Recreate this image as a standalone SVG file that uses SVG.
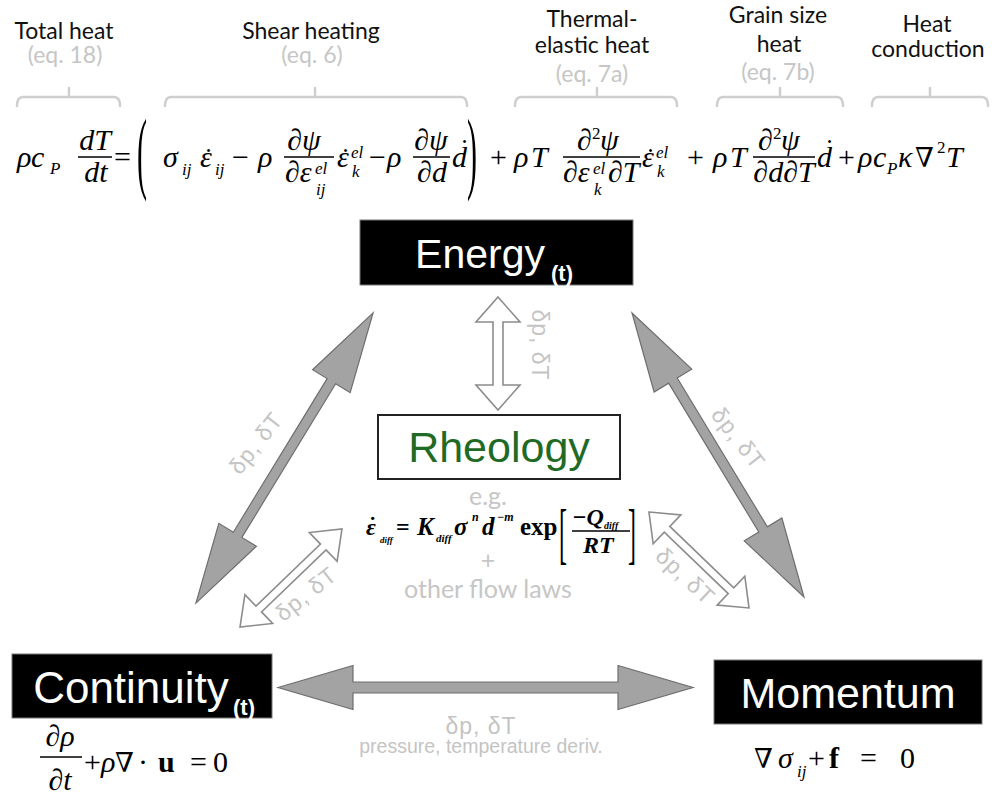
<svg xmlns="http://www.w3.org/2000/svg" width="999" height="803" viewBox="0 0 999 803">
<style>
.lbl{font-family:Lato,"Liberation Sans",sans-serif;font-size:23px;fill:#111;text-anchor:middle}
.eq{font-family:Lato,"Liberation Sans",sans-serif;font-size:23px;fill:#c6c6c6;text-anchor:middle}
.fl{font-family:Lato,"Liberation Sans",sans-serif;font-size:25px;fill:#c6c6c6;text-anchor:middle}
.br{fill:none;stroke:#cfcfcf;stroke-width:2.5;stroke-linecap:round}
.m{font-family:"Liberation Serif","DejaVu Serif",serif;font-size:30px;fill:#000}
.c{text-anchor:middle}
.i{font-style:italic}
.s{font-size:17px}
.d{font-size:27px}
.b{font-weight:bold}
.bar{stroke:#000;stroke-width:1.4}
.dark{fill:#000;stroke:#777;stroke-width:1}
.nt{font-family:"Liberation Sans",Arial,sans-serif;fill:#fff;text-anchor:middle}
.big{fill:#a3a3a3;stroke:#6e6e6e;stroke-width:1.2}
.hol{fill:#fff;stroke:#8c8c8c;stroke-width:1.6}
.al{font-family:"Liberation Sans",Arial,sans-serif;font-size:23px;letter-spacing:1px;fill:#c4c4c4;text-anchor:middle}
</style>
<rect width="999" height="803" fill="#fff"/>

<g id="heat-labels">
<text class="lbl" x="64" y="39">Total heat</text>
<text class="eq" x="65" y="63">(eq. 18)</text>
<text class="lbl" x="311" y="39">Shear heating</text>
<text class="eq" x="312" y="63">(eq. 6)</text>
<text class="lbl" x="592" y="27">Thermal-</text>
<text class="lbl" x="592" y="53">elastic heat</text>
<text class="eq" x="592" y="82">(eq. 7a)</text>
<text class="lbl" x="778" y="23">Grain size</text>
<text class="lbl" x="779" y="52">heat</text>
<text class="eq" x="778" y="80">(eq. 7b)</text>
<text class="lbl" x="927" y="32">Heat</text>
<text class="lbl" x="928" y="57">conduction</text>
<path class="br" d="M17 106 Q17 97 23 97 L114 97 Q120 97 120 106 M69 97 L69 88"/>
<path class="br" d="M165 106 Q165 97 171 97 L461 97 Q467 97 467 106 M315 97 L315 88"/>
<path class="br" d="M515 106 Q515 97 521 97 L671 97 Q677 97 677 106 M597 97 L597 88"/>
<path class="br" d="M717 106 Q717 97 723 97 L837 97 Q843 97 843 106 M780 97 L780 88"/>
<path class="br" d="M872 106 Q872 97 878 97 L982 97 Q988 97 988 106 M930 97 L930 88"/>
</g>

<g id="heat-equation">
<text class="m i" x="17" y="167">ρ</text>
<text class="m i" x="31" y="167">c</text>
<text class="m i s" x="50" y="174">P</text>
<text class="m i c" x="95" y="150">dT</text>
<line class="bar" x1="78" y1="157" x2="112" y2="157"/>
<text class="m i c" x="96" y="182">dt</text>
<text class="m" x="114" y="167">=</text>
<text class="m" transform="translate(137,182) scale(1,3)">(</text>
<text class="m i" x="163" y="167">σ</text>
<text class="m i s" x="182" y="175">ij</text>
<text class="m i" x="200" y="167">ε</text>
<text class="m d" x="204" y="167">˙</text>
<text class="m i s" x="215" y="175">ij</text>
<text class="m" x="232" y="167">−</text>
<text class="m i" x="258" y="167">ρ</text>
<text class="m i c" x="304" y="150">∂ψ</text>
<line class="bar" x1="284" y1="157" x2="334" y2="157"/>
<text class="m i" x="285" y="182">∂ε</text>
<text class="m i s" x="315" y="174">el</text>
<text class="m i s" x="316" y="195">ij</text>
<text class="m i" x="337" y="167">ε</text>
<text class="m d" x="341" y="167">˙</text>
<text class="m i s" x="351" y="158">el</text>
<text class="m i s" x="352" y="177">k</text>
<text class="m" x="369" y="167">−</text>
<text class="m i" x="387" y="167">ρ</text>
<text class="m i c" x="431" y="150">∂ψ</text>
<line class="bar" x1="413" y1="157" x2="450" y2="157"/>
<text class="m i c" x="432" y="182">∂d</text>
<text class="m i" x="452" y="167">d</text>
<text class="m d" x="460" y="158">˙</text>
<text class="m" transform="translate(467,182) scale(1,3)">)</text>
<text class="m" x="490" y="167">+</text>
<text class="m i" x="514" y="167">ρ</text>
<text class="m i" x="531" y="167">T</text>
<text class="m i" x="577" y="150">∂</text>
<text class="m s" x="592" y="139">2</text>
<text class="m i" x="600" y="150">ψ</text>
<line class="bar" x1="563" y1="157" x2="640" y2="157"/>
<text class="m i" x="563" y="182">∂ε</text>
<text class="m i s" x="593" y="174">el</text>
<text class="m i s" x="594" y="195">k</text>
<text class="m i" x="608" y="182">∂T</text>
<text class="m i" x="642" y="167">ε</text>
<text class="m d" x="646" y="167">˙</text>
<text class="m i s" x="656" y="158">el</text>
<text class="m i s" x="657" y="177">k</text>
<text class="m" x="687" y="167">+</text>
<text class="m i" x="713" y="167">ρ</text>
<text class="m i" x="730" y="167">T</text>
<text class="m i" x="758" y="150">∂</text>
<text class="m s" x="773" y="139">2</text>
<text class="m i" x="781" y="150">ψ</text>
<line class="bar" x1="753" y1="157" x2="815" y2="157"/>
<text class="m i c" x="784" y="182">∂d∂T</text>
<text class="m i" x="817" y="167">d</text>
<text class="m d" x="825" y="158">˙</text>
<text class="m" x="838" y="167">+</text>
<text class="m i" x="858" y="167">ρ</text>
<text class="m i" x="873" y="167">c</text>
<text class="m i s" x="887" y="174">P</text>
<text class="m i" x="898" y="167">κ</text>
<text class="m" x="915" y="167" style="font-size:27px">∇</text>
<text class="m s" x="937" y="153">2</text>
<text class="m i" x="946" y="167">T</text>
</g>

<g id="connectors">
<polygon class="big" transform="translate(284.5,458) rotate(-58.6)" points="-170,0 -90,-22 -90,-5 90,-5 90,-22 170,0 90,22 90,5 -90,5 -90,22"/>
<polygon class="big" transform="translate(718,455) rotate(58.8)" points="-166,0 -87,-22 -87,-5 87,-5 87,-22 166,0 87,22 87,5 -87,5 -87,22"/>
<polygon class="big" points="278,687.5 353,665.5 353,682 618,682 618,665.5 693,687.5 618,709.5 618,693 353,693 353,709.5"/>
<polygon class="hol" points="498,297 520,322 503,322 503,385 520,385 498,410 476,385 493,385 493,322 476,322"/>
<polygon class="hol" transform="translate(291,578) rotate(-43.9)" points="-70.75,0 -44.75,-20 -44.75,-4 44.75,-4 44.75,-20 70.75,0 44.75,20 44.75,4 -44.75,4 -44.75,20"/>
<polygon class="hol" transform="translate(699,560) rotate(43.8)" points="-69.3,0 -44.3,-20 -44.3,-4 44.3,-4 44.3,-20 69.3,0 44.3,20 44.3,4 -44.3,4 -44.3,20"/>
<text class="al" transform="translate(262,448) rotate(-52)">δp, δT</text>
<text class="al" transform="translate(732,443) rotate(52)">δp, δT</text>
<text class="al" transform="translate(532,345) rotate(90)">δp, δT</text>
<text class="al" transform="translate(311,600) rotate(-39)">δp, δT</text>
<text class="al" transform="translate(680,582) rotate(43)">δp, δT</text>
<text class="al" x="481" y="734">δp, δT</text>
<text class="al" x="481" y="753" style="font-size:19.5px;letter-spacing:0">pressure, temperature deriv.</text>
</g>

<g id="energy">
<rect class="dark" x="360" y="220" width="273" height="65"/>
<text class="nt" x="480" y="268" font-size="41">Energy</text>
<text class="nt" x="562" y="281" font-size="22" font-weight="bold">(t)</text>
</g>

<g id="rheology">
<rect x="378" y="415" width="242" height="64" fill="#fff" stroke="#222" stroke-width="2"/>
<text x="499" y="462" font-family="Liberation Sans,Arial,sans-serif" font-size="43" fill="#1f6b25" text-anchor="middle">Rheology</text>
<text class="fl" x="488" y="505">e.g.</text>
<text class="m b i" x="366" y="535" style="font-size:24px">ε</text>
<text class="m b" x="369" y="532" style="font-size:22px">˙</text>
<text class="m b i" x="380" y="543" style="font-size:9px">diff</text>
<text class="m b" x="396" y="535" style="font-size:24px">=</text>
<text class="m b i" x="417" y="535" style="font-size:25px">K</text>
<text class="m b i" x="436" y="542" style="font-size:11px">diff</text>
<text class="m b i" x="454" y="535" style="font-size:25px">σ</text>
<text class="m b i" x="472" y="521" style="font-size:12px">n</text>
<text class="m b i" x="482" y="535" style="font-size:25px">d</text>
<text class="m b i" x="497" y="521" style="font-size:12px">−m</text>
<text class="m b" x="520" y="535" style="font-size:25px">exp</text>
<text class="m" transform="translate(559,556) scale(1,2.8)" style="font-size:24px">[</text>
<text class="m b i" x="572" y="525" style="font-size:24px">−Q</text>
<text class="m b i" x="604" y="529" style="font-size:10px">diff</text>
<line class="bar" x1="572" y1="531" x2="630" y2="531"/>
<text class="m b i" x="583" y="553" style="font-size:24px">RT</text>
<text class="m" transform="translate(628,556) scale(1,2.8)" style="font-size:24px">]</text>
<text class="fl" x="488" y="569">+</text>
<text class="fl" x="488" y="598">other flow laws</text>
</g>

<g id="continuity">
<rect class="dark" x="12" y="654" width="260" height="64"/>
<text class="nt" x="131" y="703" font-size="44">Continuity</text>
<text class="nt" x="244" y="715" font-size="22" font-weight="bold">(t)</text>
<text class="m i c" x="60" y="746">∂ρ</text>
<line class="bar" x1="40" y1="757" x2="82" y2="757"/>
<text class="m i c" x="60" y="790">∂t</text>
<text class="m" x="84" y="772">+</text>
<text class="m i" x="101" y="772">ρ</text>
<text class="m" x="115" y="772" style="font-size:27px">∇</text>
<text class="m" x="138" y="772">·</text>
<text class="m b" x="158" y="772">u</text>
<text class="m" x="190" y="772">=</text>
<text class="m" x="213" y="772">0</text>
</g>

<g id="momentum">
<rect class="dark" x="714" y="660" width="268" height="64"/>
<text class="nt" x="848" y="708" font-size="43">Momentum</text>
<text class="m" x="754" y="768" style="font-size:27px">∇</text>
<text class="m i" x="778" y="768">σ</text>
<text class="m i s" x="797" y="777">ij</text>
<text class="m" x="808" y="768">+</text>
<text class="m b" x="829" y="768">f</text>
<text class="m" x="860" y="768">=</text>
<text class="m" x="900" y="768">0</text>
</g>
</svg>
